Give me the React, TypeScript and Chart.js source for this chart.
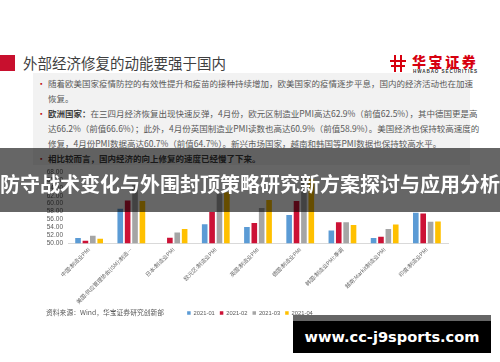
import React, { useEffect, useRef } from "react";
import { Chart, registerables } from "chart.js";

Chart.register(...registerables);

const categories = [
  "中国:制造业PMI",
  "美国:供应管理协会(ISM):制造…",
  "日本:制造业PMI",
  "欧元区:制造业PMI",
  "英国:制造业PMI",
  "德国:制造业PMI",
  "韩国:制造业PMI:季调",
  "越南:Markit制造业PMI",
  "印度:制造业PMI",
];
const seriesNames = ["2021-01", "2021-02", "2021-03", "2021-04"];
const jan2021 = [51.3, 58.7, 49.8, 54.8, 54.1, 57.1, 53.2, 51.3, 57.7];
const feb2021 = [50.6, 60.8, 51.4, 57.9, 55.1, 60.7, 55.3, 51.6, 57.5];
const mar2021 = [51.9, 64.7, 52.7, 62.5, 58.9, 66.6, 55.3, 53.6, 55.4];
const apr2021 = [51.1, 60.7, 53.6, 62.9, 60.9, 66.2, 54.6, 54.7, 55.5];
const seriesColors = ["#5B9BD5", "#CC1236", "#A5A5A5", "#FFC000"];
const yMin = 50;
const yMax = 68;
const yStep = 2;

const titleText = "外部经济修复的动能要强于国内";
const bannerText = "防守战术变化与外围封顶策略研究新方案探讨与应用分析";
const sourceText = "资料来源：Wind，华宝证券研究创新部";
const watermarkText = "www.cc-j9sports.com";

const CJK = '"Noto Sans CJK SC", "Noto Sans", sans-serif';
const LATIN = '"Liberation Sans", Arial, sans-serif';

function BarChart() {
  const ref = useRef<HTMLCanvasElement | null>(null);
  useEffect(() => {
    if (!ref.current) return;
    const values = [jan2021, feb2021, mar2021, apr2021];
    const chart = new Chart(ref.current, {
      type: "bar",
      data: {
        labels: categories,
        datasets: seriesNames.map((name, i) => ({
          label: name,
          data: values[i],
          backgroundColor: seriesColors[i],
          borderWidth: 0,
          categoryPercentage: 0.7,
          barPercentage: 0.76,
        })),
      },
      options: {
        responsive: false,
        animation: false,
        layout: { padding: { top: 9, right: 0, left: 0, bottom: 0 } },
        plugins: {
          legend: {
            position: "bottom",
            labels: {
              boxWidth: 3.5,
              boxHeight: 3.5,
              padding: 5,
              color: "#595959",
              font: { size: 5.8, family: LATIN },
            },
          },
          tooltip: { enabled: false },
        },
        scales: {
          x: {
            grid: { display: false, drawTicks: false },
            border: { display: true, color: "#d9d9d9" },
            ticks: {
              minRotation: 45,
              maxRotation: 45,
              autoSkip: false,
              padding: 3,
              color: "#666666",
              font: { size: 5.5, family: CJK },
            },
            afterFit: (scale: any) => {
              scale.height = 62;
            },
          },
          y: {
            min: yMin,
            max: yMax,
            grid: { display: false, drawTicks: false },
            border: { display: false },
            ticks: {
              stepSize: yStep,
              autoSkip: false,
              padding: 5,
              color: "#595959",
              font: { size: 6.5, family: LATIN },
              callback: (v: any) => Number(v).toFixed(2),
            },
            afterFit: (scale: any) => {
              scale.width = 68;
            },
          },
          spacer: {
            type: "linear",
            position: "right",
            display: true,
            grid: { display: false, drawTicks: false },
            border: { display: false },
            ticks: { display: false },
            afterFit: (scale: any) => {
              scale.width = 52;
            },
          },
        },
      },
    });
    return () => chart.destroy();
  }, []);
  return <canvas ref={ref} width={500} height={163} style={{ display: "block" }} />;
}

const abs = (s: React.CSSProperties): React.CSSProperties => ({ position: "absolute", ...s });

export default function App() {
  const textStyle: React.CSSProperties = {
    fontFamily: CJK,
    fontSize: "8.5px",
    color: "#595959",
    whiteSpace: "nowrap",
    lineHeight: "1",
  };
  const lineY = (i: number) => 83.5 + 14.9 * i - 4.5;
  const bold: React.CSSProperties = { fontWeight: 700, color: "#404040" };
  const bullet = (i: number) => (
    <div style={abs({ left: 37, top: lineY(i), ...textStyle, color: "#C00000" })}>•</div>
  );
  return (
    <div
      style={{
        position: "fixed",
        left: 0,
        top: 0,
        width: 500,
        height: 362,
        background: "#ffffff",
        overflow: "hidden",
      }}
    >
      {/* title */}
      <div style={abs({ left: 0, top: 55, width: 15, height: 16, background: "#C8102E" })} />
      <div
        style={abs({
          left: 23,
          top: 54,
          fontFamily: CJK,
          fontSize: "14.5px",
          color: "#3f3f3f",
          lineHeight: "18px",
          whiteSpace: "nowrap",
        })}
      >
        {titleText}
      </div>
      {/* logo */}
      <div style={abs({ left: 394, top: 55, width: 2, height: 17, background: "#D7000F" })} />
      <div style={abs({ left: 400, top: 55, width: 2, height: 17, background: "#D7000F" })} />
      <div style={abs({ left: 390, top: 60, width: 16, height: 2, background: "#D7000F" })} />
      <div style={abs({ left: 391, top: 65, width: 14, height: 2, background: "#D7000F" })} />
      <div
        style={abs({
          left: 412,
          top: 53,
          fontFamily: CJK,
          fontWeight: 900,
          fontSize: "14px",
          letterSpacing: "2.6px",
          color: "#D7000F",
          lineHeight: "16px",
          whiteSpace: "nowrap",
        })}
      >
        华宝证券
      </div>
      <div
        style={abs({
          left: 413,
          top: 68.5,
          fontFamily: LATIN,
          fontWeight: 700,
          fontSize: "4.6px",
          letterSpacing: "0.9px",
          color: "#333",
          lineHeight: "5px",
          whiteSpace: "nowrap",
        })}
      >
        HWABAO SECURITIES
      </div>
      {/* gray text box */}
      <div style={abs({ left: 33, top: 73, width: 437, height: 92, background: "#f2f2f2" })} />
      {bullet(0)}
      <div style={abs({ left: 48, top: lineY(0), ...textStyle })}>
        随着欧美国家疫情防控的有效性提升和疫苗的接种持续增加，欧美国家的疫情逐步平息，国内的经济活动也在加速
      </div>
      <div style={abs({ left: 48, top: lineY(1), ...textStyle })}>恢复。</div>
      {bullet(2)}
      <div style={abs({ left: 48, top: lineY(2), ...textStyle })}>
        <span style={bold}>欧洲国家：</span>
        在三四月经济恢复出现快速反弹，4月份，欧元区制造业PMI高达62.9%（前值62.5%），其中德国更是高
      </div>
      <div style={abs({ left: 48, top: lineY(3), ...textStyle })}>
        达66.2%（前值66.6%）；此外，4月份英国制造业PMI读数也高达60.9%（前值58.9%）。美国经济也保持较高速度的
      </div>
      <div style={abs({ left: 48, top: lineY(4), ...textStyle })}>
        修复，4月份PMI数据高达60.7%（前值64.7%）。新兴市场国家，越南和韩国等PMI数据也保持较高水平。
      </div>
      {bullet(5)}
      <div style={abs({ left: 48, top: lineY(5), ...textStyle, ...bold })}>
        相比较而言，国内经济的向上修复的速度已经慢了下来。
      </div>
      {/* chart */}
      <div style={abs({ left: 0, top: 163, width: 500, height: 163 })}>
        <BarChart />
      </div>
      {/* source */}
      <div
        style={abs({
          left: 46,
          top: 308,
          fontFamily: CJK,
          fontSize: "6.8px",
          color: "#595959",
          lineHeight: "8px",
          whiteSpace: "nowrap",
        })}
      >
        {sourceText}
      </div>
      {/* banner overlay */}
      <div style={abs({ left: 0, top: 148, width: 500, height: 64, background: "rgba(0,0,0,0.6)" })} />
      <div
        style={abs({
          left: 0,
          top: 173,
          width: 500,
          textAlign: "center",
          fontFamily: CJK,
          fontWeight: 700,
          fontSize: "20px",
          lineHeight: "22px",
          color: "#ffffff",
          whiteSpace: "nowrap",
        })}
      >
        {bannerText}
      </div>
      {/* watermark */}
      <div style={abs({ left: 293, top: 315, width: 198, height: 6, background: "#666666" })} />
      <div
        style={abs({
          left: 293,
          top: 321,
          width: 198,
          height: 32,
          background: "#000000",
          color: "#ffffff",
          fontFamily: '"DejaVu Sans", sans-serif',
          fontWeight: 700,
          fontSize: "14.6px",
          lineHeight: "32px",
          textAlign: "center",
          whiteSpace: "nowrap",
        })}
      >
        {watermarkText}
      </div>
    </div>
  );
}
